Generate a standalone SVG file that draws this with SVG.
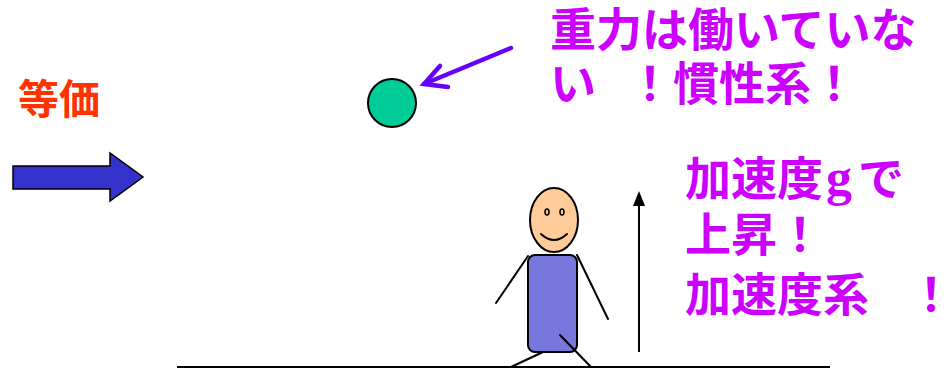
<svg xmlns="http://www.w3.org/2000/svg" width="951" height="369" viewBox="0 0 951 369">
  <style>
    .jp { font-family: "Noto Sans CJK JP", "Noto Sans CJK SC", sans-serif; font-weight: bold; }
    .note { fill: #CC00FF; font-size: 46px; }
    .serif { font-family: "Liberation Serif", serif; font-weight: bold; }
    .ink { stroke: #000; stroke-width: 2; fill: none; stroke-linecap: round; }
  </style>
  <rect width="951" height="369" fill="#fff"/>

  <!-- label: equivalent -->
  <g id="label-equiv">
    <text class="jp" x="18" y="114" font-size="41" fill="#FF3300">等価</text>
  </g>

  <!-- big blue arrow -->
  <g id="equiv-arrow">
    <polygon points="13,166 110,166 110,153 143,177 110,201 110,189 13,189" fill="#3333CC" stroke="#000" stroke-width="1.5"/>
  </g>

  <!-- floating ball -->
  <g id="ball">
    <circle cx="392" cy="103" r="24" fill="#00CC99" stroke="#000" stroke-width="2"/>
  </g>

  <!-- ground -->
  <g id="ground">
    <line x1="177" y1="367" x2="830" y2="367" stroke="#000" stroke-width="2"/>
  </g>

  <!-- stick person -->
  <g id="person">
    <line class="ink" x1="528" y1="256" x2="496" y2="303"/>
    <line class="ink" x1="577" y1="255" x2="608" y2="319"/>
    <line class="ink" x1="543" y1="352" x2="511" y2="367"/>
    <rect x="528" y="255" width="49" height="97" rx="7" fill="#7777DD" stroke="#000" stroke-width="2"/>
    <line class="ink" x1="560" y1="335" x2="591" y2="367"/>
    <ellipse cx="554" cy="220" rx="24" ry="32" fill="#FFCC99" stroke="#000" stroke-width="2"/>
    <ellipse cx="547" cy="212" rx="2" ry="3" fill="none" stroke="#000" stroke-width="1.6"/>
    <ellipse cx="562" cy="212" rx="2" ry="3" fill="none" stroke="#000" stroke-width="1.6"/>
    <path class="ink" d="M541,234 Q554,246 567,234"/>
  </g>

  <!-- connectors -->
  <g id="connectors">
    <!-- pointer to the ball -->
    <g stroke="#6600FF" stroke-width="4.5" stroke-linecap="round" fill="none">
      <line x1="511" y1="48" x2="424" y2="84"/>
      <polyline points="440,66 424,84 448,87"/>
    </g>
    <!-- upward acceleration -->
    <line x1="639" y1="352" x2="639" y2="204" stroke="#000" stroke-width="2"/>
    <polygon points="639,191 633,206 645,206" fill="#000"/>
  </g>

  <!-- caption: no gravity, inertial frame -->
  <g id="caption-inertial" class="jp note">
    <text x="550" y="46">重力は働いていな</text>
    <text y="100"><tspan x="550">い</tspan><tspan x="627">！慣性系！</tspan></text>
  </g>

  <!-- caption: accelerating frame -->
  <g id="caption-accel" class="jp note">
    <text y="195"><tspan x="685">加速度</tspan><tspan class="serif" x="826" font-size="52">g</tspan><tspan x="858">で</tspan></text>
    <text x="685" y="251">上昇！</text>
    <text y="311"><tspan x="685">加速度系</tspan><tspan x="908">！</tspan></text>
  </g>
</svg>
